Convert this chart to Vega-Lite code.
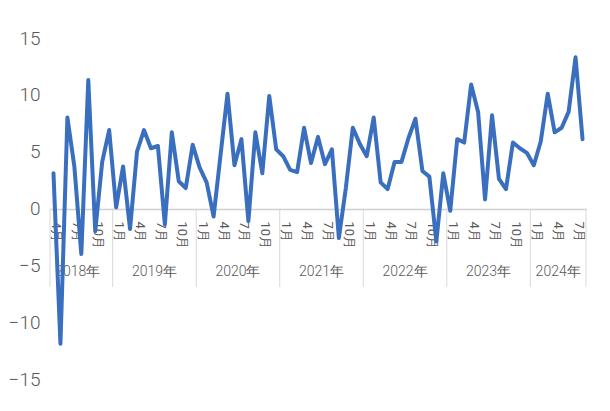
{
  "$schema": "https://vega.github.io/schema/vega-lite/v6.json",
  "width": 536,
  "height": 341,
  "autosize": {"type": "none"},
  "padding": {"left": 50, "top": 38, "right": 24, "bottom": 32},
  "background": "white",
  "config": {
    "view": {"stroke": null},
    "font": "Roboto",
    "text": {"font": "Roboto"},
    "axisX": {
      "title": null,
      "orient": "bottom",
      "offset": -170,
      "ticks": false,
      "domainColor": "#d0d0d0",
      "domainWidth": 1.5,
      "labelAngle": 90,
      "labelAlign": "left",
      "labelBaseline": "middle",
      "labelFontSize": 13,
      "labelColor": "#595959",
      "labelPadding": 12,
      "labelOffset": 3,
      "labelOverlap": false
    }
  },
  "datasets": {
    "series": [
      {"month": "2018-04", "value": 3.1},
      {"month": "2018-05", "value": -11.9},
      {"month": "2018-06", "value": 8.0},
      {"month": "2018-07", "value": 3.7},
      {"month": "2018-08", "value": -4.0},
      {"month": "2018-09", "value": 11.3},
      {"month": "2018-10", "value": -2.0},
      {"month": "2018-11", "value": 4.1},
      {"month": "2018-12", "value": 6.9},
      {"month": "2019-01", "value": 0.1},
      {"month": "2019-02", "value": 3.7},
      {"month": "2019-03", "value": -1.8},
      {"month": "2019-04", "value": 5.0},
      {"month": "2019-05", "value": 6.9},
      {"month": "2019-06", "value": 5.3},
      {"month": "2019-07", "value": 5.5},
      {"month": "2019-08", "value": -1.4},
      {"month": "2019-09", "value": 6.7},
      {"month": "2019-10", "value": 2.4},
      {"month": "2019-11", "value": 1.8},
      {"month": "2019-12", "value": 5.6},
      {"month": "2020-01", "value": 3.6},
      {"month": "2020-02", "value": 2.3},
      {"month": "2020-03", "value": -0.7},
      {"month": "2020-04", "value": 4.7},
      {"month": "2020-05", "value": 10.1},
      {"month": "2020-06", "value": 3.8},
      {"month": "2020-07", "value": 6.1},
      {"month": "2020-08", "value": -1.1},
      {"month": "2020-09", "value": 6.7},
      {"month": "2020-10", "value": 3.1},
      {"month": "2020-11", "value": 9.9},
      {"month": "2020-12", "value": 5.2},
      {"month": "2021-01", "value": 4.6},
      {"month": "2021-02", "value": 3.4},
      {"month": "2021-03", "value": 3.2},
      {"month": "2021-04", "value": 7.1},
      {"month": "2021-05", "value": 4.0},
      {"month": "2021-06", "value": 6.3},
      {"month": "2021-07", "value": 3.9},
      {"month": "2021-08", "value": 5.2},
      {"month": "2021-09", "value": -2.6},
      {"month": "2021-10", "value": 1.8},
      {"month": "2021-11", "value": 7.1},
      {"month": "2021-12", "value": 5.7},
      {"month": "2022-01", "value": 4.6},
      {"month": "2022-02", "value": 8.0},
      {"month": "2022-03", "value": 2.3},
      {"month": "2022-04", "value": 1.7},
      {"month": "2022-05", "value": 4.1},
      {"month": "2022-06", "value": 4.1},
      {"month": "2022-07", "value": 6.2},
      {"month": "2022-08", "value": 7.9},
      {"month": "2022-09", "value": 3.3},
      {"month": "2022-10", "value": 2.8},
      {"month": "2022-11", "value": -2.9},
      {"month": "2022-12", "value": 3.1},
      {"month": "2023-01", "value": -0.2},
      {"month": "2023-02", "value": 6.1},
      {"month": "2023-03", "value": 5.8},
      {"month": "2023-04", "value": 10.9},
      {"month": "2023-05", "value": 8.5},
      {"month": "2023-06", "value": 0.8},
      {"month": "2023-07", "value": 8.2},
      {"month": "2023-08", "value": 2.6},
      {"month": "2023-09", "value": 1.7},
      {"month": "2023-10", "value": 5.8},
      {"month": "2023-11", "value": 5.3},
      {"month": "2023-12", "value": 4.9},
      {"month": "2024-01", "value": 3.8},
      {"month": "2024-02", "value": 5.9},
      {"month": "2024-03", "value": 10.1},
      {"month": "2024-04", "value": 6.7},
      {"month": "2024-05", "value": 7.1},
      {"month": "2024-06", "value": 8.5},
      {"month": "2024-07", "value": 13.3},
      {"month": "2024-08", "value": 6.1}
    ],
    "years": [
      {"year": "2018年", "start": "2018-04", "mid": "2018-08"},
      {"year": "2019年", "start": "2019-01", "mid": "2019-07"},
      {"year": "2020年", "start": "2020-01", "mid": "2020-07"},
      {"year": "2021年", "start": "2021-01", "mid": "2021-07"},
      {"year": "2022年", "start": "2022-01", "mid": "2022-07"},
      {"year": "2023年", "start": "2023-01", "mid": "2023-07"},
      {"year": "2024年", "start": "2024-01", "mid": "2024-05"}
    ]
  },
  "layer": [
    {
      "data": {"name": "years"},
      "mark": {"type": "rule", "color": "#d9d9d9", "strokeWidth": 1},
      "encoding": {
        "x": {"field": "start", "type": "ordinal", "bandPosition": 0},
        "y": {"datum": 0},
        "y2": {"datum": -6.9}
      }
    },
    {
      "data": {"values": [{"end": "2024-08"}]},
      "mark": {"type": "rule", "color": "#d9d9d9", "strokeWidth": 1},
      "encoding": {
        "x": {"field": "end", "type": "ordinal", "bandPosition": 1},
        "y": {"datum": 0},
        "y2": {"datum": -6.9}
      }
    },
    {
      "data": {"name": "years"},
      "mark": {"type": "text", "fontSize": 14, "fontWeight": 300, "color": "#595959", "align": "center", "baseline": "middle"},
      "encoding": {
        "x": {"field": "mid", "type": "ordinal", "bandPosition": 0},
        "y": {"datum": -5.55},
        "text": {"field": "year"}
      }
    },
    {
      "data": {"name": "series"},
      "mark": {"type": "line", "color": "#3a6fc0", "strokeWidth": 4, "strokeJoin": "round", "strokeCap": "round"},
      "encoding": {
        "x": {
          "field": "month",
          "type": "ordinal",
          "scale": {"type": "band", "paddingInner": 0, "paddingOuter": 0},
          "axis": {
            "labelAngle": 90,
            "labelExpr": "indexof(['01','04','07','10'], slice(datum.value, 5)) >= 0 ? toNumber(slice(datum.value, 5)) + '月' : ''"
          }
        },
        "y": {
          "field": "value",
          "type": "quantitative",
          "scale": {"domain": [-15, 15], "nice": false, "zero": false},
          "axis": {
            "title": null,
            "values": [-15, -10, -5, 0, 5, 10, 15],
            "domain": false,
            "ticks": false,
            "grid": false,
            "labelFontSize": 19,
            "labelFontWeight": 300,
            "labelColor": "#595959",
            "labelPadding": 10
          }
        }
      }
    }
  ]
}
